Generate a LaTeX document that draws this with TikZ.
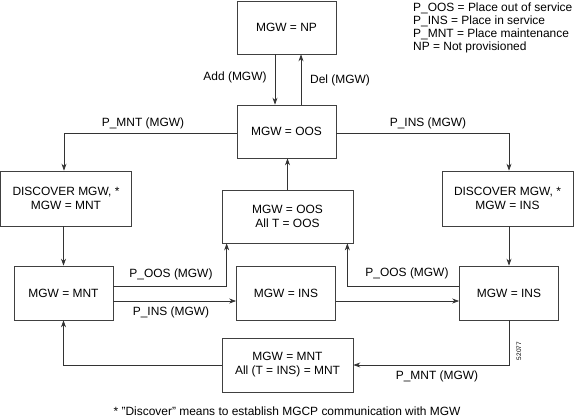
\documentclass[tikz,border=0pt]{standalone}
\usepackage{fontspec}
\setmainfont{Liberation Sans}
\usetikzlibrary{arrows.meta}
\begin{document}
\begin{tikzpicture}[x=1bp,y=-1bp,
  every node/.style={font=\fontsize{12}{14}\selectfont, inner sep=0pt},
  st/.style={draw=black!75, line width=0.7pt, minimum height=53bp, align=center},
  wbox/.style={st, minimum width=99bp},
  bbox/.style={st, minimum width=131bp},
  ln/.style={draw=black!80, line width=0.7pt},
  arr/.style={ln, -{Stealth[length=7bp,width=5bp]}},
  lbl/.style={text=black}]
\useasboundingbox (0,0) rectangle (574,419);
% boxes
\node[wbox] (np) at (286.5,27.5) {MGW = NP};
\node[wbox] (oos) at (286.5,131.5) {MGW = OOS};
\node[bbox, minimum height=55bp] (dmnt) at (66,198.5) {DISCOVER MGW, *\\MGW = MNT};
\node[bbox, minimum height=55bp] (dins) at (507.5,198.5) {DISCOVER MGW, *\\MGW = INS};
\node[bbox] (cen) at (287.5,216.5) {MGW = OOS\\All T = OOS};
\node[wbox, minimum height=54bp] (mnt) at (63.5,293) {MGW = MNT};
\node[wbox, minimum height=54bp] (mins) at (286,293) {MGW = INS};
\node[wbox, minimum height=54bp] (rins) at (509,293) {MGW = INS};
\node[bbox, minimum height=54bp] (bot) at (287.5,365) {MGW = MNT\\All (T = INS) = MNT};
% connectors
\draw[arr] ([xshift=-11.5bp]np.south) -- ([xshift=-11.5bp]oos.north);
\draw[arr] ([xshift=14.5bp]oos.north) -- ([xshift=14.5bp]np.south);
\draw[arr] ([yshift=-1.5bp]oos.west) -| ([xshift=-2bp]dmnt.north);
\draw[arr] ([yshift=-1.5bp]oos.east) -| ([xshift=1.5bp]dins.north);
\draw[arr] (cen.north) -- (cen.north |- oos.south);
\draw[arr] (mnt.north |- dmnt.south) -- (mnt.north);
\draw[arr] (rins.north |- dins.south) -- (rins.north);
\draw[arr] ([yshift=7bp]mnt.east) -| ([xshift=5bp]cen.south west);
\draw[arr] ([yshift=7bp]rins.west) -| ([xshift=-6bp]cen.south east);
\draw[arr] ([yshift=-8bp]mnt.east) -- ([yshift=-8bp]mins.west);
\draw[arr] ([yshift=-8bp]mins.east) -- ([yshift=-8bp]rins.west);
\draw[arr] (rins.south) |- (bot.east);
\draw[arr] (bot.west) -| (mnt.south);
% labels
\node[lbl] (l1) at (235,77) {Add (MGW)};
\node[lbl] (l2) at (340,80) {Del (MGW)};
\node[lbl] (l3) at (143,123) {P\_MNT (MGW)};
\node[lbl] (l4) at (428,123) {P\_INS (MGW)};
\node[lbl] (l5) at (171,274) {P\_OOS (MGW)};
\node[lbl] (l6) at (171,312) {P\_INS (MGW)};
\node[lbl] (l7) at (407,273) {P\_OOS (MGW)};
\node[lbl] (l8) at (437,376) {P\_MNT (MGW)};
\node[lbl, font=\fontsize{6.5}{7}\selectfont, rotate=90] (code) at (519,351) {52077};
\node[lbl] (foot) at (287,411) {* "Discover" means to establish MGCP communication with MGW};
\node[lbl, anchor=north west, align=left, font=\fontsize{12}{13.2}\selectfont] (legend) at (413,2.5) {P\_OOS = Place out of service\\P\_INS = Place in service\\P\_MNT = Place maintenance\\NP = Not provisioned};
\end{tikzpicture}
\end{document}
